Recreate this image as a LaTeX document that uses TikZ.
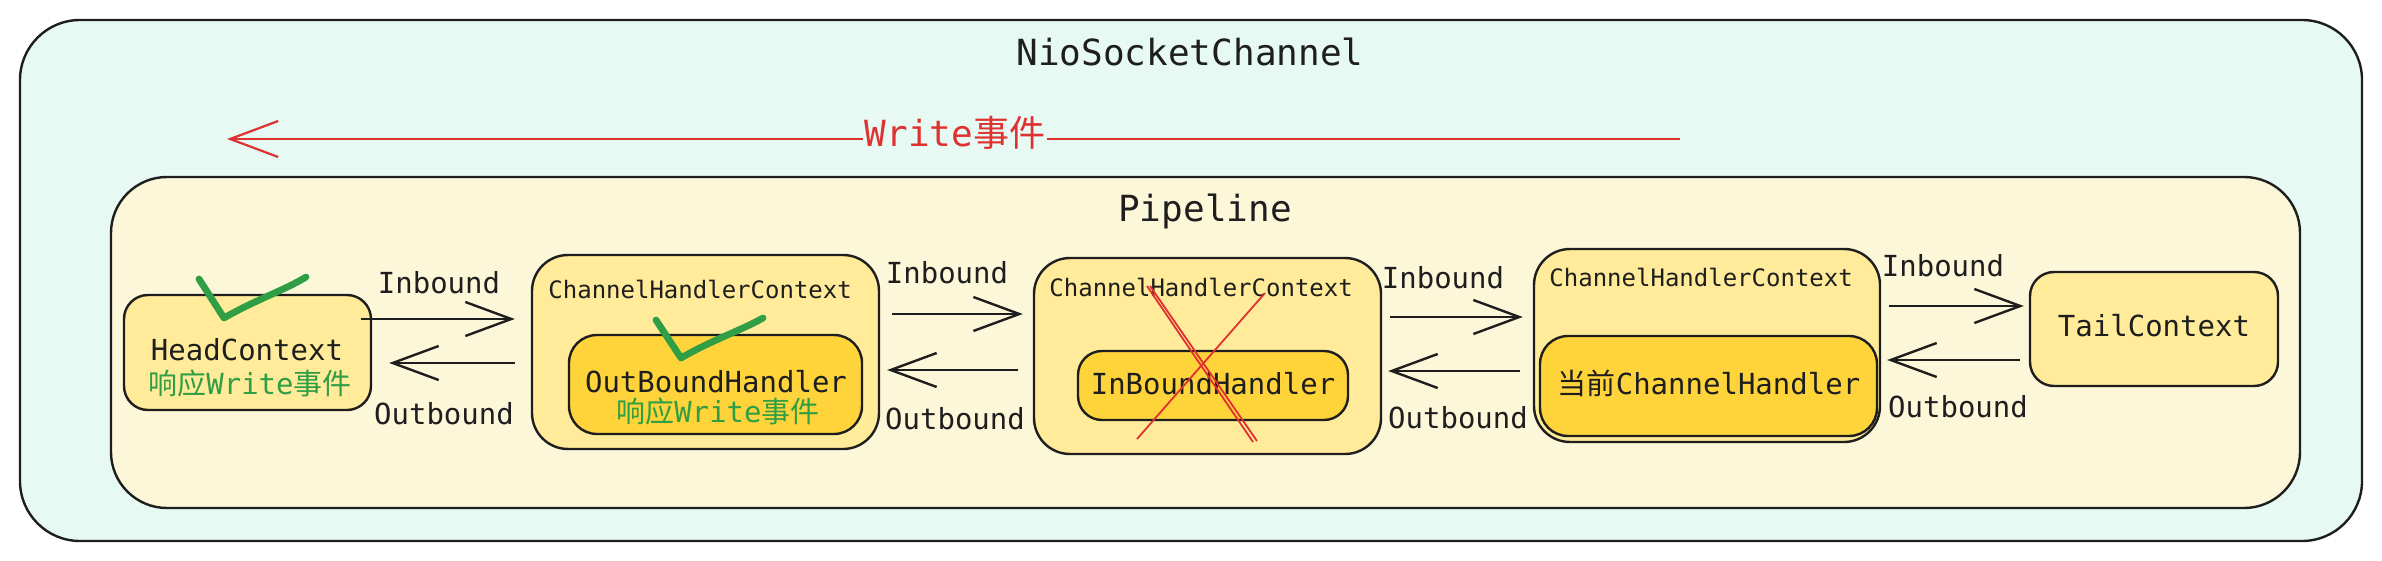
\documentclass[tikz,border=0pt]{standalone}
\usepackage{fontspec}
\setmainfont{DejaVu Sans Mono}
\newfontfamily\cjk{Noto Sans CJK SC}
\usetikzlibrary{arrows.meta,fit}
\definecolor{bgcyan}{HTML}{E6FAF3}
\definecolor{pipefill}{HTML}{FDF7DA}
\definecolor{ctxfill}{HTML}{FFEB99}
\definecolor{handfill}{HTML}{FFD43B}
\definecolor{okgreen}{HTML}{2F9E44}
\definecolor{evred}{HTML}{E03131}
\definecolor{ink}{HTML}{1E1E1E}
\tikzset{
  box/.style={draw=ink, line width=1.2pt, inner sep=0pt},
  title/.style={font=\fontsize{18}{21}\selectfont, inner sep=0pt, anchor=base, text=ink},
  lbl/.style={font=\fontsize{14.5}{17}\selectfont, inner sep=0pt, anchor=base, text=ink},
  small/.style={font=\fontsize{12}{14}\selectfont, inner sep=0pt, anchor=base west, text=ink},
  arr/.style={draw=ink, line width=1.2pt, -{Straight Barb[length=23pt,width=17pt,line width=1.2pt]}},
  redarr/.style={draw=evred, line width=0.9pt, -{Straight Barb[length=24pt,width=18pt,line width=1.1pt]}},
  check/.style={draw=okgreen, line width=3.4pt, line cap=round, line join=round},
  cross/.style={draw=evred, line width=0.9pt}
}
\begin{document}
\begin{tikzpicture}[x=0.5pt,y=-0.5pt]
\useasboundingbox (0,0) rectangle (2382,561);

% containers
\node[box, fill=bgcyan, rounded corners=30pt, fit={(20,20) (2362,541)}] (outer) {};
\node[box, fill=pipefill, rounded corners=28pt, fit={(111,177) (2300,508)}] (pipe) {};

\node[title] (tnio) at (1190,66) {NioSocketChannel};
\node[title] (tpipe) at (1205,222) {Pipeline};

% write event arrow
\coordinate (wstart) at (1680,139);
\coordinate (wtip) at (227,139);
\draw[redarr] (wstart) -- (wtip);
\node[title, text=evred, fill=bgcyan, inner xsep=1pt] (wlabel) at (955,147) {Write{\cjk 事件}};

% boxes
\node[box, fill=ctxfill, rounded corners=12pt, fit={(124,295) (371,410)}] (head) {};
\node[box, fill=ctxfill, rounded corners=18pt, fit={(532,255) (879,449)}] (chc1) {};
\node[box, fill=handfill, rounded corners=14pt, fit={(569,335) (862,434)}] (ob) {};
\node[box, fill=ctxfill, rounded corners=18pt, fit={(1034,258) (1381,454)}] (chc2) {};
\node[box, fill=handfill, rounded corners=12pt, fit={(1078,351) (1348,420)}] (ib) {};
\node[box, fill=ctxfill, rounded corners=18pt, fit={(1534,249) (1880,442)}] (chc3) {};
\node[box, fill=handfill, rounded corners=14pt, fit={(1540,336) (1877,436)}] (cur) {};
\node[box, fill=ctxfill, rounded corners=12pt, fit={(2030,272) (2278,386)}] (tail) {};

% box texts
\node[lbl] (thead) at (247,360) {HeadContext};
\node[lbl, text=okgreen] (thead2) at (250,394) {{\cjk 响应}Write{\cjk 事件}};
\node[small] (tc1) at (548,299) {ChannelHandlerContext};
\node[lbl] (tob) at (716,392) {OutBoundHandler};
\node[lbl, text=okgreen] (tob2) at (718,422) {{\cjk 响应}Write{\cjk 事件}};
\node[small] (tc2) at (1049,297) {ChannelHandlerContext};
\node[lbl] (tib) at (1213,394) {InBoundHandler};
\node[small] (tc3) at (1549,286) {ChannelHandlerContext};
\node[lbl] (tcur) at (1709,394) {{\cjk 当前}ChannelHandler};
\node[lbl] (ttail) at (2154,336) {TailContext};

% inbound / outbound arrows
\draw[arr, shorten <=-5.5pt, shorten >=8pt] (head.east |- 0,319) -- (chc1.west |- 0,319);
\draw[arr, shorten <=8pt, shorten >=8.5pt] (chc1.west |- 0,363) -- (head.east |- 0,363);
\draw[arr, shorten <=6pt, shorten >=5pt] (chc1.east |- 0,314) -- (chc2.west |- 0,314);
\draw[arr, shorten <=7.5pt, shorten >=3.5pt] (chc2.west |- 0,370) -- (chc1.east |- 0,370);
\draw[arr, shorten <=4pt, shorten >=5pt] (chc2.east |- 0,317) -- (chc3.west |- 0,317);
\draw[arr, shorten <=6.5pt, shorten >=3pt] (chc3.west |- 0,371) -- (chc2.east |- 0,371);
\draw[arr, shorten <=4pt, shorten >=2.5pt] (chc3.east |- 0,306) -- (tail.west |- 0,306);
\draw[arr, shorten <=4.5pt, shorten >=3pt] (tail.west |- 0,360) -- (chc3.east |- 0,360);

\node[lbl] (lin1) at (439,293) {Inbound};
\node[lbl] (lout1) at (444,424) {Outbound};
\node[lbl] (lin2) at (947,284) {Inbound};
\node[lbl] (lout2) at (955,429) {Outbound};
\node[lbl] (lin3) at (1443,288) {Inbound};
\node[lbl] (lout3) at (1458,428) {Outbound};
\node[lbl] (lin4) at (1943,277) {Inbound};
\node[lbl] (lout4) at (1958,417) {Outbound};

% check marks
\draw[check] (199,279) -- (224,318) .. controls (255,300) and (285,290) .. (306,277);
\draw[check] (656,320) -- (681,358) .. controls (712,340) and (742,330) .. (763,318);

% red cross
\draw[cross] (1147,286) -- (1253,442);
\draw[cross] (1150,286) -- (1257,441);
\draw[cross] (1265,293) -- (1137,439);
\end{tikzpicture}
\end{document}
